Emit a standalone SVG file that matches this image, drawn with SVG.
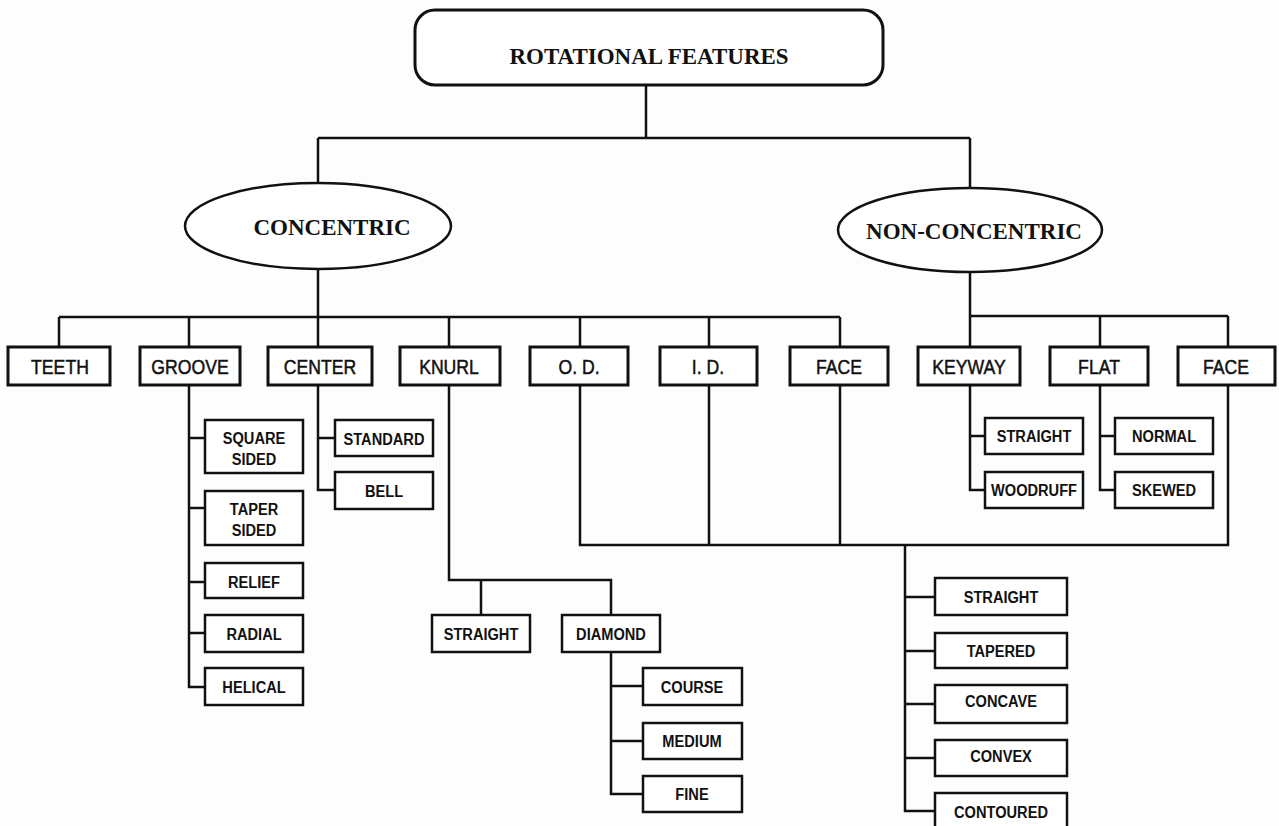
<svg xmlns="http://www.w3.org/2000/svg" width="1279" height="826" viewBox="0 0 1279 826">
  <style>
    .bg { fill: #fdfdfd; }
    .wire { fill: none; stroke: #111; stroke-width: 2.5; stroke-linejoin: miter; }
    .box { fill: #fff; stroke: #111; stroke-width: 3; }
    .sub { fill: #fff; stroke: #111; stroke-width: 2.5; }
    .oval { fill: #fff; stroke: #111; stroke-width: 2.5; }
    .title { font-family: "Liberation Serif", "Times New Roman", serif; font-weight: bold; font-size: 23px; fill: #111; text-anchor: middle; }
    .cat, .leaf { font-family: "Liberation Sans", Arial, sans-serif; fill: #111; text-anchor: middle;
                  transform-box: fill-box; transform-origin: center; }
    .cat { font-size: 21px; stroke: #111; stroke-width: 0.5px; transform: scaleX(0.84); }
    .leaf { font-weight: bold; font-size: 17px; transform: scaleX(0.86); }
  </style>
  <rect class="bg" x="0" y="0" width="1279" height="826"/>

  <!-- connectors -->
  <g id="connectors" class="wire">
    <path d="M646 85 V138 M318 138 H970 M318 138 V183 M970 138 V188"/>
    <!-- concentric bus -->
    <path d="M318 269 V317 M59 317 H840 M59 317 V347 M189 317 V347 M318 317 V347 M449 317 V347 M580 317 V347 M709 317 V347 M840 317 V347"/>
    <!-- non-concentric bus -->
    <path d="M970 272 V347 M970 316 H1228 M1100 316 V347 M1228 316 V347"/>
    <!-- groove -->
    <path d="M189 385 V687 H205 M189 438 H205 M189 508 H205 M189 582 H205 M189 633 H205"/>
    <!-- center -->
    <path d="M318 385 V490 H335 M318 438 H335"/>
    <!-- knurl -->
    <path d="M449 385 V580 H611 V615 M481 580 V615"/>
    <!-- diamond -->
    <path d="M611 652 V794 H643 M611 686 H643 M611 741 H643"/>
    <!-- keyway / flat -->
    <path d="M970 385 V490 H985 M970 436 H985"/>
    <path d="M1100 385 V490 H1115 M1100 436 H1115"/>
    <!-- shared profile bus -->
    <path d="M580 385 V545 H1228 V385 M709 385 V545 M840 385 V545"/>
    <path d="M905 545 V811 H935 M905 597 H935 M905 651 H935 M905 704 H935 M905 758 H935"/>
  </g>

  <g id="rotational-features">
    <rect x="415" y="10" width="468" height="75" rx="20" class="oval" style="stroke-width:3"/>
    <text class="title" x="649" y="64">ROTATIONAL FEATURES</text>
  </g>
  <g id="concentric">
    <ellipse cx="318" cy="226" rx="133" ry="43" class="oval"/>
    <text class="title" x="332" y="235">CONCENTRIC</text>
  </g>
  <g id="non-concentric">
    <ellipse cx="970" cy="230" rx="132" ry="42" class="oval"/>
    <text class="title" x="974" y="239">NON-CONCENTRIC</text>
  </g>

  <!-- first level -->
  <g id="teeth"><rect class="box" x="8" y="347" width="102" height="38"/><text class="cat" x="60" y="374">TEETH</text></g>
  <g id="groove"><rect class="box" x="140" y="347" width="100" height="38"/><text class="cat" x="190" y="374">GROOVE</text></g>
  <g id="center"><rect class="box" x="268" y="347" width="104" height="38"/><text class="cat" x="320" y="374">CENTER</text></g>
  <g id="knurl"><rect class="box" x="400" y="347" width="100" height="38"/><text class="cat" x="449" y="374">KNURL</text></g>
  <g id="od"><rect class="box" x="530" y="347" width="98" height="38"/><text class="cat" x="579" y="374">O. D.</text></g>
  <g id="id"><rect class="box" x="660" y="347" width="97" height="38"/><text class="cat" x="708" y="374">I. D.</text></g>
  <g id="face-c"><rect class="box" x="790" y="347" width="98" height="38"/><text class="cat" x="839" y="374">FACE</text></g>
  <g id="keyway"><rect class="box" x="918" y="347" width="102" height="38"/><text class="cat" x="969" y="374">KEYWAY</text></g>
  <g id="flat"><rect class="box" x="1050" y="347" width="98" height="38"/><text class="cat" x="1099" y="374">FLAT</text></g>
  <g id="face-n"><rect class="box" x="1178" y="347" width="97" height="38"/><text class="cat" x="1226" y="374">FACE</text></g>

  <!-- groove types -->
  <g id="square-sided"><rect class="sub" x="205" y="420" width="98" height="53"/><text class="leaf" x="254" y="444">SQUARE</text><text class="leaf" x="254" y="465">SIDED</text></g>
  <g id="taper-sided"><rect class="sub" x="205" y="491" width="98" height="54"/><text class="leaf" x="254" y="515">TAPER</text><text class="leaf" x="254" y="536">SIDED</text></g>
  <g id="relief"><rect class="sub" x="205" y="563" width="98" height="35"/><text class="leaf" x="254" y="588">RELIEF</text></g>
  <g id="radial"><rect class="sub" x="205" y="615" width="98" height="37"/><text class="leaf" x="254" y="640">RADIAL</text></g>
  <g id="helical"><rect class="sub" x="205" y="668" width="98" height="37"/><text class="leaf" x="254" y="693">HELICAL</text></g>

  <!-- center types -->
  <g id="standard"><rect class="sub" x="335" y="420" width="98" height="36"/><text class="leaf" x="384" y="445">STANDARD</text></g>
  <g id="bell"><rect class="sub" x="335" y="472" width="98" height="37"/><text class="leaf" x="384" y="497">BELL</text></g>

  <!-- knurl types -->
  <g id="knurl-straight"><rect class="sub" x="432" y="615" width="98" height="37"/><text class="leaf" x="481" y="640">STRAIGHT</text></g>
  <g id="diamond"><rect class="sub" x="562" y="615" width="98" height="37"/><text class="leaf" x="611" y="640">DIAMOND</text></g>
  <g id="course"><rect class="sub" x="643" y="668" width="99" height="37"/><text class="leaf" x="692" y="693">COURSE</text></g>
  <g id="medium"><rect class="sub" x="643" y="723" width="99" height="36"/><text class="leaf" x="692" y="747">MEDIUM</text></g>
  <g id="fine"><rect class="sub" x="643" y="776" width="99" height="36"/><text class="leaf" x="692" y="800">FINE</text></g>

  <!-- keyway / flat types -->
  <g id="keyway-straight"><rect class="sub" x="985" y="418" width="98" height="36"/><text class="leaf" x="1034" y="442">STRAIGHT</text></g>
  <g id="woodruff"><rect class="sub" x="985" y="472" width="98" height="36"/><text class="leaf" x="1034" y="496">WOODRUFF</text></g>
  <g id="normal"><rect class="sub" x="1115" y="418" width="98" height="36"/><text class="leaf" x="1164" y="442">NORMAL</text></g>
  <g id="skewed"><rect class="sub" x="1115" y="472" width="98" height="36"/><text class="leaf" x="1164" y="496">SKEWED</text></g>

  <!-- profile types -->
  <g id="profile-straight"><rect class="sub" x="935" y="578" width="132" height="37"/><text class="leaf" x="1001" y="603">STRAIGHT</text></g>
  <g id="tapered"><rect class="sub" x="935" y="633" width="132" height="35"/><text class="leaf" x="1001" y="657">TAPERED</text></g>
  <g id="concave"><rect class="sub" x="935" y="685" width="132" height="38"/><text class="leaf" x="1001" y="707">CONCAVE</text></g>
  <g id="convex"><rect class="sub" x="935" y="740" width="132" height="36"/><text class="leaf" x="1001" y="762">CONVEX</text></g>
  <g id="contoured"><rect class="sub" x="935" y="793" width="132" height="38"/><text class="leaf" x="1001" y="818">CONTOURED</text></g>
</svg>
